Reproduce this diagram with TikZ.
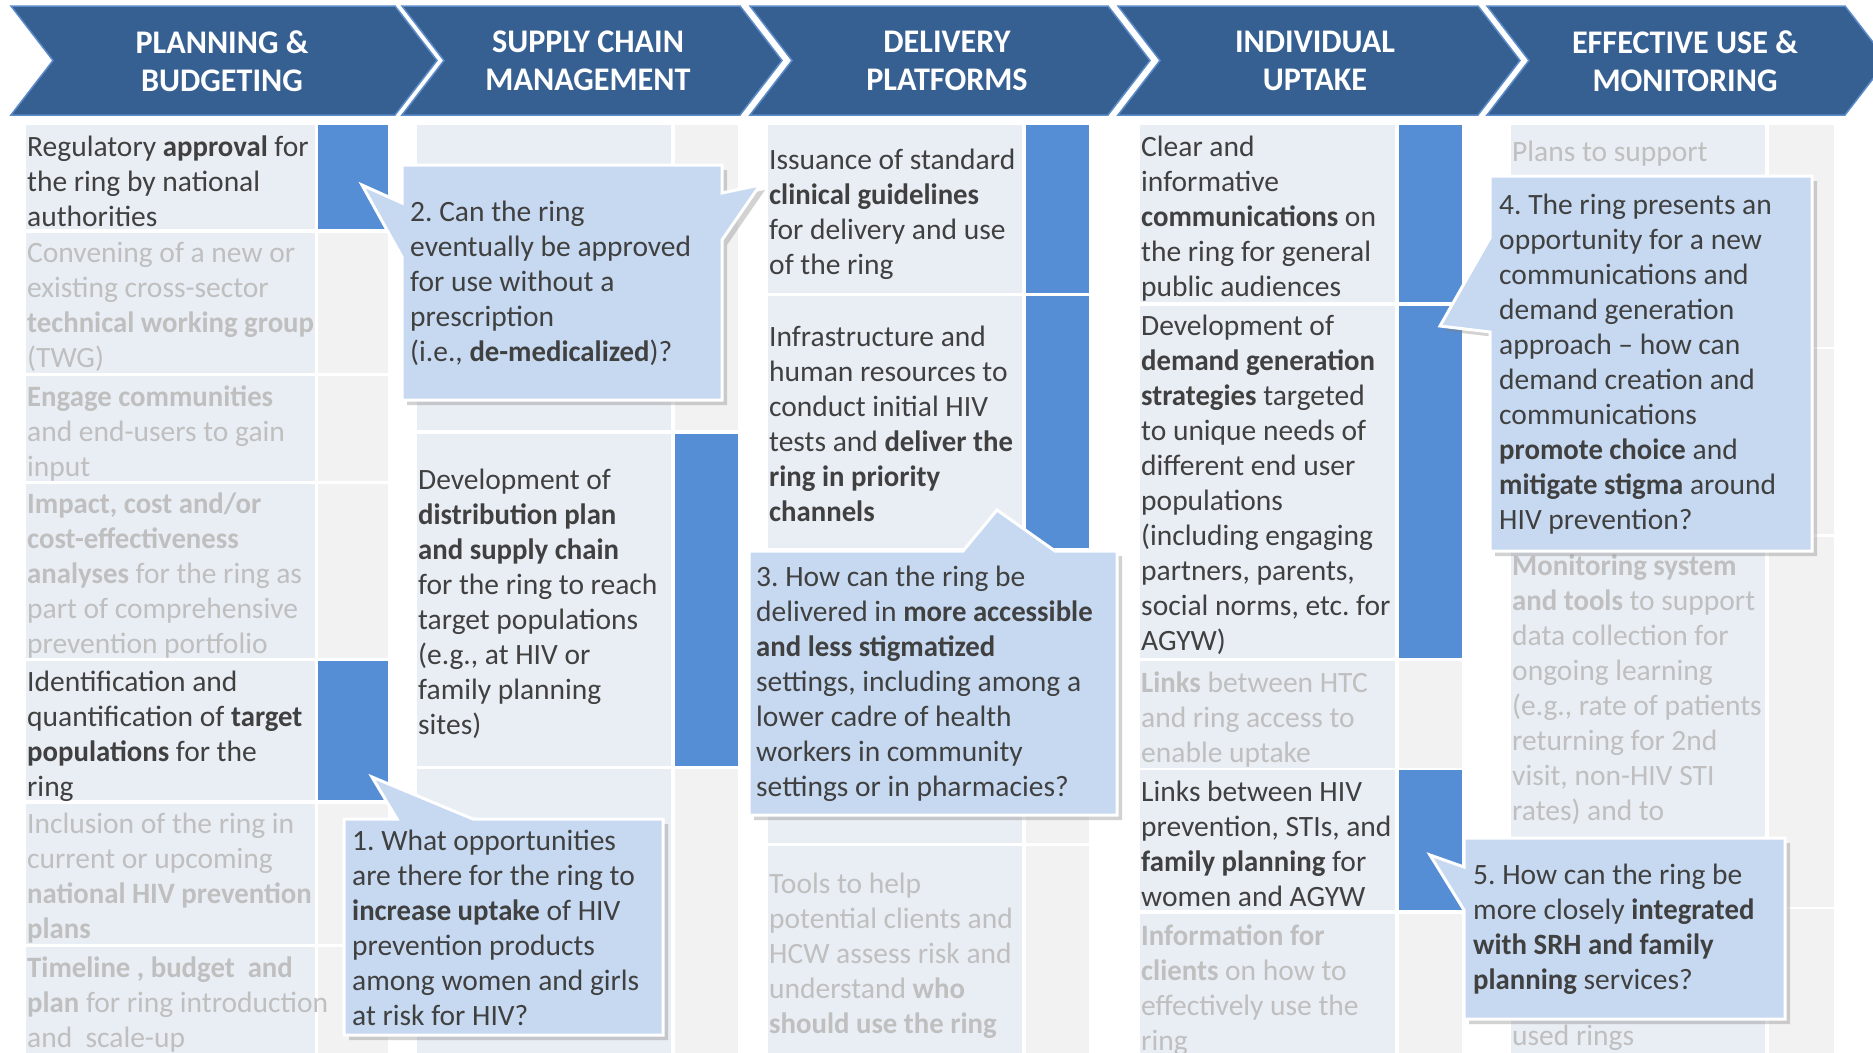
\documentclass[tikz,border=0pt]{standalone}
\usepackage{fontspec}
\setmainfont{Carlito}[BoldFeatures={FakeStretch=0.975}]
\frenchspacing
\usetikzlibrary{shadows}
\definecolor{stageblue}{HTML}{376092}
\definecolor{stageedge}{HTML}{5B8BC9}
\definecolor{cellbg}{HTML}{E9EDF4}
\definecolor{barblue}{HTML}{558ED5}
\definecolor{bargrey}{HTML}{F2F2F2}
\definecolor{askfill}{HTML}{C6D9F1}
\definecolor{inktext}{HTML}{404040}
\definecolor{fadetext}{HTML}{BFBFBF}
\newcommand\cellfont{\fontsize{29.5}{35}\selectfont}
\newcommand\stagefont{\fontsize{33}{38}\selectfont\bfseries}
\newcommand\plainspaces{\spaceskip=0pt\xspaceskip=0pt\relax}

\begin{document}
\begin{tikzpicture}[x=1pt, y=-1pt,
    stage/.style={fill=stageblue, draw=stageedge, line width=1.5pt},
    stagetext/.style={text=white, font=\stagefont, align=center, execute at begin node=\plainspaces},
    cell/.style={anchor=base west, inner sep=0pt, font=\cellfont, align=left, text width=320pt,
      execute at begin node=\plainspaces},
    ink/.style={cell, text=inktext},
    fade/.style={cell, text=fadetext},
    ask/.style={fill=askfill, draw=white, line width=3pt,
      drop shadow={shadow xshift=5pt, shadow yshift=-5pt, opacity=0.35}},
    asktext/.style={anchor=west, inner sep=0pt, font=\cellfont, text=inktext, align=left, text width=360pt,
      execute at begin node=\plainspaces}]
  \useasboundingbox (0,0) rectangle (1873,1052);
  \clip (0,0) rectangle (1873,1052);
  \fill[white] (0,0) rectangle (1873,1052);

  % stages
  \foreach \xa/\xb in {11/395, 402/740, 750/1108, 1118/1478, 1487/1845}
    \path[stage] (\xa,6) -- (\xb,6) -- (\xb+42,60.5) -- (\xb,115) -- (\xa,115) -- (\xa+42,60.5) -- cycle;
  \node[stagetext] (h1) at (222,61) {PLANNING \&\\BUDGETING};
  \node[stagetext] (h2) at (588,61) {SUPPLY CHAIN\\MANAGEMENT};
  \node[stagetext] (h3) at (947,61) {DELIVERY\\PLATFORMS};
  \node[stagetext] (h4) at (1315,61) {INDIVIDUAL\\UPTAKE};
  \node[stagetext] (h5) at (1685,61) {EFFECTIVE USE \&\\MONITORING};

  % rows: cell + bar
  \foreach \ya/\yb/\bc in {125/229/barblue, 233/373/bargrey, 376/481/bargrey, 484/658/bargrey,
      661/800/barblue, 804/944/bargrey, 947/1060/bargrey}
    {\fill[cellbg] (26,\ya) rectangle (315,\yb); \fill[\bc] (318,\ya) rectangle (388,\yb);}
  \foreach \ya/\yb/\bc in {125/430/bargrey, 434/766/barblue, 769/1060/bargrey}
    {\fill[cellbg] (417,\ya) rectangle (671,\yb); \fill[\bc] (675,\ya) rectangle (738,\yb);}
  \foreach \ya/\yb/\bc in {125/293/barblue, 296/548/barblue, 550/843/bargrey, 846/1060/bargrey}
    {\fill[cellbg] (768,\ya) rectangle (1022,\yb); \fill[\bc] (1026,\ya) rectangle (1089,\yb);}
  \foreach \ya/\yb/\bc in {125/302/barblue, 306/658/barblue, 661/768/bargrey, 770/910/barblue,
      914/1060/bargrey}
    {\fill[cellbg] (1140,\ya) rectangle (1395,\yb); \fill[\bc] (1399,\ya) rectangle (1462,\yb);}
  \foreach \ya/\yb/\bc in {125/347/bargrey, 349/534/bargrey, 537/907/bargrey, 909/1060/bargrey}
    {\fill[cellbg] (1511,\ya) rectangle (1765,\yb); \fill[\bc] (1769,\ya) rectangle (1834,\yb);}

  % planning & budgeting
  \node[ink] (p1) at (27,156) {Regulatory \textbf{approval} for\\the ring by national\\authorities};
  \node[fade] (p2) at (27,262) {Convening of a new or\\existing cross-sector\\\textbf{technical working group}\\(TWG)};
  \node[fade] (p3) at (27,406) {\textbf{Engage communities}\\and end-users to gain\\input};
  \node[fade] (p4) at (27,513) {\textbf{Impact, cost and/or}\\\textbf{cost-effectiveness}\\\textbf{analyses} for the ring as\\part of comprehensive\\prevention portfolio};
  \node[ink] (p5) at (27,691) {Identification and\\quantification of \textbf{target}\\\textbf{populations} for the\\ring};
  \node[fade] (p6) at (27,833) {Inclusion of the ring in\\current or upcoming\\\textbf{national HIV prevention}\\\textbf{plans}};
  \node[fade] (p7) at (27,977) {\textbf{Timeline , budget\ \ and}\\\textbf{plan} for ring introduction\\and\ \ scale-up};

  % supply chain
  \node[ink] (s2) at (418,489) {Development of\\\textbf{distribution plan}\\\textbf{and supply chain}\\for the ring to reach\\target populations\\(e.g., at HIV or\\family planning\\sites)};

  % delivery
  \node[ink] (d1) at (769,169) {Issuance of standard\\\textbf{clinical guidelines}\\for delivery and use\\of the ring};
  \node[ink] (d2) at (769,346) {Infrastructure and\\human resources to\\conduct initial HIV\\tests and \textbf{deliver the}\\\textbf{ring in priority}\\\textbf{channels}};
  \node[fade] (d4) at (769,893) {Tools to help\\potential clients and\\HCW assess risk and\\understand \textbf{who}\\\textbf{should use the ring}};

  % individual uptake
  \node[ink] (u1) at (1141,156) {Clear and\\informative\\\textbf{communications} on\\the ring for general\\public audiences};
  \node[ink] (u2) at (1141,335) {Development of\\\textbf{demand generation}\\\textbf{strategies} targeted\\to unique needs of\\different end user\\populations\\(including engaging\\partners, parents,\\social norms, etc. for\\AGYW)};
  \node[fade] (u3) at (1141,692) {\textbf{Links} between HTC\\and ring access to\\enable uptake};
  \node[ink] (u4) at (1141,801) {Links between HIV\\prevention, STIs, and\\\textbf{family planning} for\\women and AGYW};
  \node[fade] (u5) at (1141,945) {\textbf{Information for}\\\textbf{clients} on how to\\effectively use the\\ring};

  % effective use
  \node[fade] (e1) at (1512,161) {Plans to support};
  \node[fade] (e3) at (1512,575) {\textbf{Monitoring system}\\\textbf{and tools} to support\\data collection for\\ongoing learning\\(e.g., rate of patients\\returning for 2nd\\visit, non-HIV STI\\rates) and to};
  \node[fade] (e4) at (1512,1045) {used rings};

  % questions
  \coordinate (t1) at (372,777);
  \coordinate (t2a) at (362,185);
  \coordinate (t2b) at (760,185);
  \coordinate (t3) at (997,510);
  \coordinate (t4) at (1440,326);
  \coordinate (t5) at (1430,855);
  \path[ask] (402,165) -- (722,165) -- (722,193) -- (t2b) -- (722,240) -- (722,400)
    -- (402,400) -- (402,257) -- (t2a) -- (402,203) -- cycle;
  \node[asktext] (q2) at (410,283) {2. Can the ring\\eventually be approved\\for use without a\\prescription\\(i.e., \textbf{de-medicalized})?};
  \path[ask] (749,551) -- (963,551) -- (t3) -- (1055,551) -- (1117,551) -- (1117,815)
    -- (749,815) -- cycle;
  \node[asktext] (q3) at (756,684) {3. How can the ring be\\delivered in \textbf{more accessible}\\\textbf{and less stigmatized}\\settings, including among a\\lower cadre of health\\workers in community\\settings or in pharmacies?};
  \path[ask] (344,819) -- (397,819) -- (t1) -- (473,819) -- (663,819) -- (663,1035)
    -- (344,1035) -- cycle;
  \node[asktext] (q1) at (352,928) {1. What opportunities\\are there for the ring to\\\textbf{increase uptake} of HIV\\prevention products\\among women and girls\\at risk for HIV?};
  \path[ask] (1490,176) -- (1812,176) -- (1812,551) -- (1490,551) -- (1490,332) -- (t4)
    -- (1490,238) -- cycle;
  \node[asktext] (q4) at (1499,364) {4. The ring presents an\\opportunity for a new\\communications and\\demand generation\\approach -- how can\\demand creation and\\communications\\\textbf{promote choice} and\\\textbf{mitigate stigma} around\\HIV prevention?};
  \path[ask] (1464,838) -- (1785,838) -- (1785,1019) -- (1464,1019) -- (1464,910) -- (t5)
    -- (1464,867) -- cycle;
  \node[asktext] (q5) at (1473,929) {5. How can the ring be\\more closely \textbf{integrated}\\\textbf{with SRH and family}\\\textbf{planning} services?};
\end{tikzpicture}
\end{document}
